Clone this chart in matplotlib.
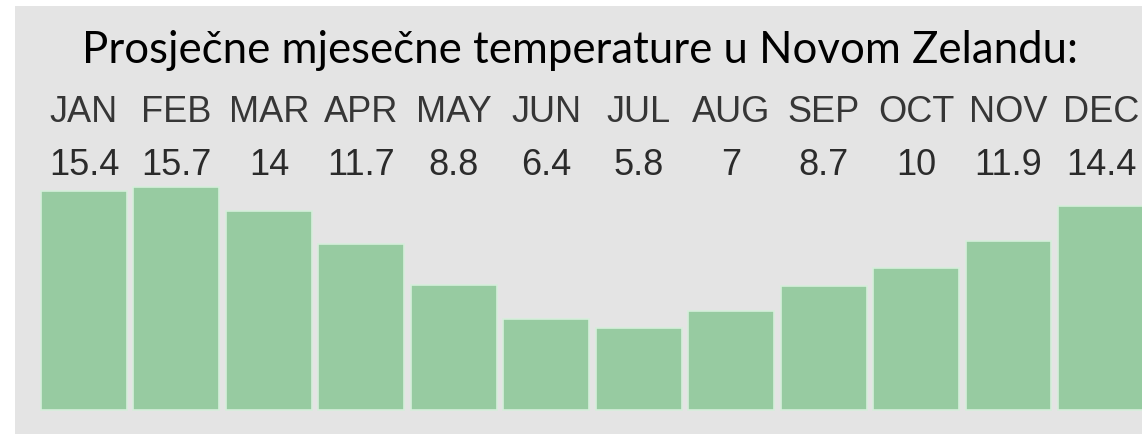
import matplotlib
matplotlib.use("Agg")
import matplotlib.pyplot as plt

months = ['JAN', 'FEB', 'MAR', 'APR', 'MAY', 'JUN', 'JUL', 'AUG', 'SEP', 'OCT', 'NOV', 'DEC']
temps = [15.4, 15.7, 14, 11.7, 8.8, 6.4, 5.8, 7, 8.7, 10, 11.9, 14.4]
value_labels = ['15.4', '15.7', '14', '11.7', '8.8', '6.4', '5.8', '7', '8.7', '10', '11.9', '14.4']
title = 'Prosječne mjesečne temperature u Novom Zelandu:'

fig = plt.figure(figsize=(11.42, 4.35), dpi=100)
fig.patch.set_facecolor('white')

# grey panel, leaves a thin white strip on the left and top
ax = fig.add_axes([15 / 1142, 0, 1 - 15 / 1142, 428 / 435])
ax.set_facecolor('#e4e4e4')

x = list(range(len(months)))
ax.bar(x, temps, width=0.93, color='#97cba1', edgecolor='#d6eedb', linewidth=1.2)

ax.set_xlim(-0.746, 11.444)
ax.set_ylim(-1.69, 28.45)
for s in ax.spines.values():
    s.set_visible(False)
ax.set_xticks([])
ax.set_yticks([])

trans = ax.get_xaxis_transform()
for i, (m, v) in enumerate(zip(months, value_labels)):
    ax.text(i, 0.731, m, transform=trans, ha='center', va='baseline',
            fontsize=26, family='Liberation Sans', color='#363636')
    ax.text(i, 0.6075, v, transform=trans, ha='center', va='baseline',
            fontsize=26, family='Liberation Sans', color='#2b2b2b')

fig.text(0.5083, 372 / 435, title, ha='center', va='baseline',
         fontsize=31.5, family='Lato', color='black')

fig.savefig('out.png', dpi=100)
